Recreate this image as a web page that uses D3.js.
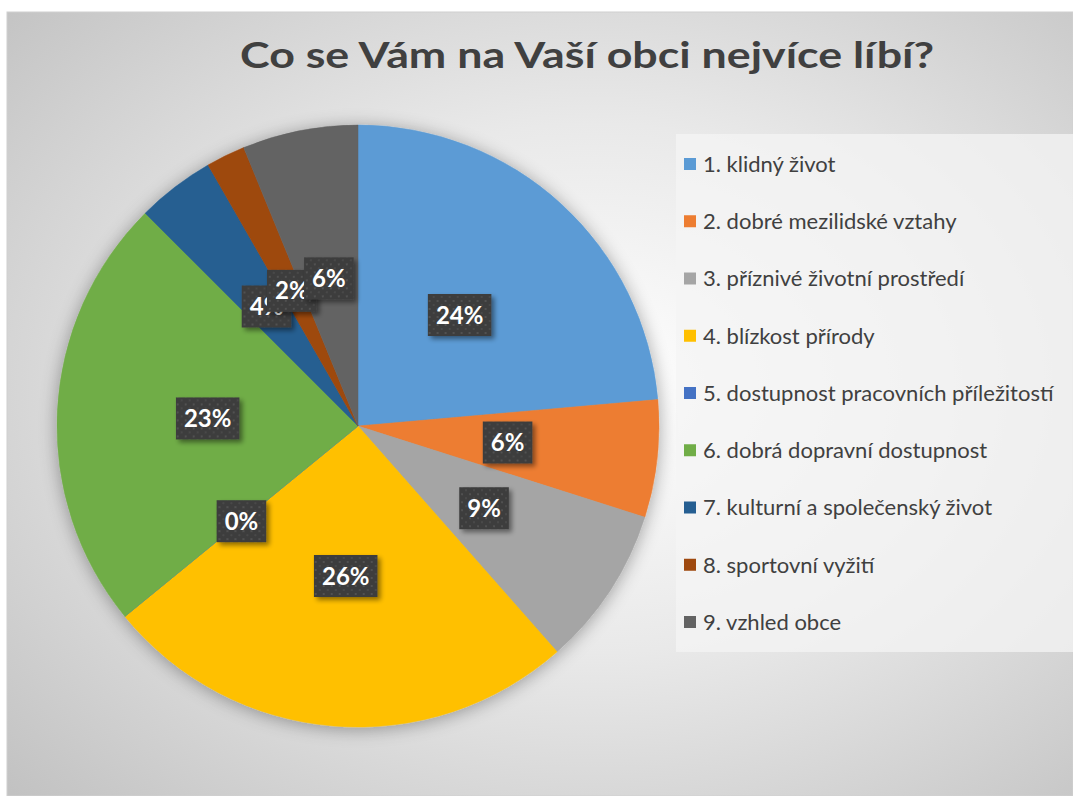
<!DOCTYPE html>
<html lang="cs">
<head>
<meta charset="utf-8">
<title>Co se Vám na Vaší obci nejvíce líbí?</title>
<style>
	html, body { margin: 0; padding: 0; background: #fff; }
	svg { display: block; }
	text { font-family: Lato, "Open Sans", sans-serif; }
</style>
</head>
<body>
<div id="chart"></div>
<script src="https://cdn.jsdelivr.net/npm/d3@7"></script>
<script>
// answers (legend order) and share of respondents in %
var categories = [
	"1. klidný život",
	"2. dobré mezilidské vztahy",
	"3. příznivé životní prostředí",
	"4. blízkost přírody",
	"5. dostupnost pracovních příležitostí",
	"6. dobrá dopravní dostupnost",
	"7. kulturní a společenský život",
	"8. sportovní vyžití",
	"9. vzhled obce"
];
var values = [23.6, 6.3, 8.6, 25.6, 0, 23.4, 4.2, 2.1, 6.2];
var colors = ["#5B9BD5", "#ED7D31", "#A5A5A5", "#FFC000", "#4472C4", "#70AD47", "#255E91", "#9E480E", "#636363"];
var title = "Co se Vám na Vaší obci nejvíce líbí?";

var width = 1073, height = 796;
var cx = 358, cy = 426, radius = 301;

var svg = d3.select("#chart")
	.append("svg")
	.attr("width", width)
	.attr("height", height);

var defs = svg.append("defs");

// chart area background: radial grey gradient
var bg = defs.append("radialGradient")
	.attr("id", "bgGrad")
	.attr("cx", "55%").attr("cy", "48%").attr("r", "75%");
bg.append("stop").attr("offset", "0%").attr("stop-color", "#ffffff");
bg.append("stop").attr("offset", "45%").attr("stop-color", "#e9e9e9");
bg.append("stop").attr("offset", "100%").attr("stop-color", "#c2c2c2");

// soft shadow round the pie
var pieShadow = defs.append("filter")
	.attr("id", "pieShadow")
	.attr("x", "-20%").attr("y", "-20%").attr("width", "140%").attr("height", "140%");
pieShadow.append("feGaussianBlur").attr("in", "SourceAlpha").attr("stdDeviation", 9);
pieShadow.append("feOffset").attr("dx", 0).attr("dy", 2).attr("result", "blur");
pieShadow.append("feComponentTransfer").append("feFuncA").attr("type", "linear").attr("slope", 0.35);
var pm = pieShadow.append("feMerge");
pm.append("feMergeNode");
pm.append("feMergeNode").attr("in", "SourceGraphic");

// shadow under the label boxes
var boxShadow = defs.append("filter")
	.attr("id", "boxShadow")
	.attr("x", "-30%").attr("y", "-30%").attr("width", "160%").attr("height", "160%");
boxShadow.append("feGaussianBlur").attr("in", "SourceAlpha").attr("stdDeviation", 2.5);
boxShadow.append("feOffset").attr("dx", 3).attr("dy", 3);
boxShadow.append("feComponentTransfer").append("feFuncA").attr("type", "linear").attr("slope", 0.45);
var bm = boxShadow.append("feMerge");
bm.append("feMergeNode");
bm.append("feMergeNode").attr("in", "SourceGraphic");

// dotted dark fill of the label boxes
var dots = defs.append("pattern")
	.attr("id", "dots")
	.attr("patternUnits", "userSpaceOnUse")
	.attr("width", 8).attr("height", 8);
dots.append("rect").attr("width", 8).attr("height", 8).attr("fill", "#3d3d3d");
dots.append("circle").attr("cx", 2).attr("cy", 2).attr("r", 1).attr("fill", "#575757");
dots.append("circle").attr("cx", 6).attr("cy", 6).attr("r", 1).attr("fill", "#4d4d4d");

svg.append("rect")
	.attr("x", 7).attr("y", 12)
	.attr("width", width - 7).attr("height", height - 12)
	.attr("fill", "url(#bgGrad)")
	.attr("stroke", "#d0d0d0")
	.attr("stroke-width", 1);

svg.append("text")
	.attr("x", 587)
	.attr("y", 68)
	.attr("text-anchor", "middle")
	.attr("textLength", 694)
	.attr("lengthAdjust", "spacingAndGlyphs")
	.style("font-size", "37px")
	.style("font-weight", "bold")
	.style("fill", "#404040")
	.text(title);

var pie = d3.pie().sort(null).value(function (d) { return d; });
var arc = d3.arc().innerRadius(0).outerRadius(radius);
var arcs = pie(values);

var g = svg.append("g")
	.attr("transform", "translate(" + cx + "," + cy + ")");

g.append("g")
	.attr("filter", "url(#pieShadow)")
	.selectAll("path")
	.data(arcs)
	.enter()
	.append("path")
	.attr("d", arc)
	.attr("fill", function (d, i) { return colors[i]; })
	.attr("stroke", function (d, i) { return colors[i]; })
	.attr("stroke-width", 0.5);

// data labels, drawn in order so later boxes sit on top
var labels = g.append("g")
	.selectAll("g")
	.data(arcs)
	.enter()
	.append("g")
	.attr("transform", function (d) { return "translate(" + arc.centroid(d) + ")"; });

var boxes = labels.append("rect")
	.attr("fill", "url(#dots)")
	.attr("filter", "url(#boxShadow)");

var labelText = labels.append("text")
	.attr("text-anchor", "middle")
	.attr("dy", "0.36em")
	.style("font-size", "24px")
	.style("font-weight", "bold")
	.style("fill", "#ffffff")
	.text(function (d) { return Math.round(d.data) + "%"; });

labelText.each(function (d) {
	var w = this.getComputedTextLength() + 16;
	d.boxW = w;
});
boxes
	.attr("x", function (d) { return -d.boxW / 2; })
	.attr("y", -21)
	.attr("width", function (d) { return d.boxW; })
	.attr("height", 42);

// legend
var legendY = d3.scalePoint()
	.domain(categories)
	.range([164, 622]);

var legend = svg.append("g");
legend.append("rect")
	.attr("x", 676).attr("y", 134)
	.attr("width", width - 676).attr("height", 518)
	.attr("fill", "#f4f4f4")
	.attr("fill-opacity", 0.75);

var item = legend.selectAll("g.item")
	.data(categories)
	.enter()
	.append("g")
	.attr("class", "item")
	.attr("transform", function (d) { return "translate(684," + legendY(d) + ")"; });

item.append("rect")
	.attr("x", 0).attr("y", -6)
	.attr("width", 12).attr("height", 12)
	.attr("fill", function (d, i) { return colors[i]; });

item.append("text")
	.attr("x", 19)
	.attr("dy", "0.36em")
	.style("font-size", "22px")
	.style("fill", "#404040")
	.text(function (d) { return d; });
</script>
</body>
</html>
